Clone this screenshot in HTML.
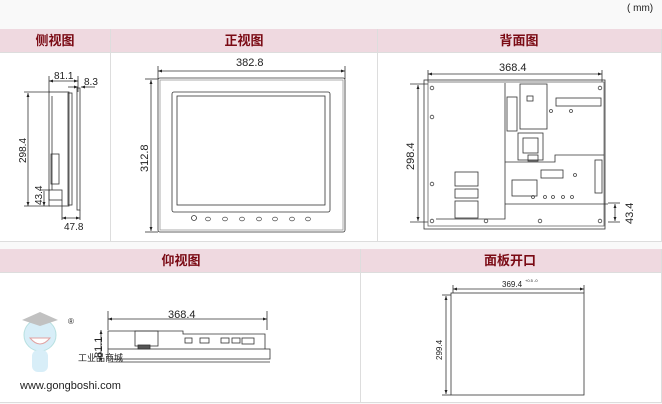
<!DOCTYPE html>
<html><head><meta charset="utf-8"><style>
html,body{margin:0;padding:0;background:#f9f9f9;}
svg{display:block;}
text{font-family:"Liberation Sans",sans-serif;fill:#222;}
.h{font-family:"Liberation Sans","Noto Sans CJK SC",sans-serif;font-weight:bold;fill:#7a0a14;font-size:13px;}
</style></head><body>
<svg width="662" height="404" viewBox="0 0 662 404" xmlns="http://www.w3.org/2000/svg">
<defs>
<marker id="a" viewBox="0 0 6 6" refX="6" refY="3" markerWidth="5" markerHeight="5" orient="auto-start-reverse"><path d="M0,0.8 L6,3 L0,5.2z" fill="#222"/></marker>
</defs>
<rect width="662" height="404" fill="#f9f9f9"/>
<text x="627" y="11" font-size="10" fill="#444">( mm)</text>
<!-- top table -->
<rect x="0" y="29" width="662" height="23" fill="#efd9e0"/>
<rect x="0" y="52" width="662" height="189" fill="#fff"/>
<g stroke="#ddd" stroke-width="1" fill="none">
<line x1="110.5" y1="29" x2="110.5" y2="241"/><line x1="377.5" y1="29" x2="377.5" y2="241"/>
<line x1="0" y1="52.5" x2="662" y2="52.5"/><line x1="0" y1="241.5" x2="662" y2="241.5"/>
<line x1="661.5" y1="29" x2="661.5" y2="241"/>
</g>
<text class="h" x="55" y="45" text-anchor="middle">侧视图</text>
<text class="h" x="244" y="45" text-anchor="middle">正视图</text>
<text class="h" x="519" y="45" text-anchor="middle">背面图</text>
<!-- side view -->
<g stroke="#333" stroke-width="0.8" fill="none">
<line x1="49" y1="76" x2="49" y2="92"/><line x1="78" y1="76" x2="78" y2="92"/>
<line x1="49" y1="81" x2="78" y2="81" marker-start="url(#a)" marker-end="url(#a)"/>
<line x1="68" y1="87" x2="78" y2="87" marker-end="url(#a)"/><line x1="95" y1="87" x2="81" y2="87" marker-end="url(#a)"/>
<line x1="24" y1="92" x2="50" y2="92"/><line x1="28" y1="93" x2="28" y2="206" marker-start="url(#a)" marker-end="url(#a)"/>
<line x1="24" y1="206" x2="50" y2="206"/>
<rect x="49" y="92" width="20" height="114"/>
<line x1="52" y1="96" x2="52" y2="190"/>
<rect x="68" y="93" width="4" height="112"/>
<rect x="77" y="88" width="3" height="122"/>
<rect x="51" y="154" width="8" height="30"/>
<rect x="49" y="190" width="13" height="10"/>
<line x1="62" y1="200" x2="62" y2="220"/><line x1="80" y1="210" x2="80" y2="220"/>
<line x1="62" y1="218" x2="80" y2="218" marker-start="url(#a)" marker-end="url(#a)"/>
<line x1="40" y1="190" x2="50" y2="190"/><line x1="44" y1="191" x2="44" y2="206" marker-end="url(#a)"/>
</g>
<text x="54" y="79" font-size="10">81.1</text>
<text x="84" y="85" font-size="10">8.3</text>
<text x="64" y="230" font-size="10">47.8</text>
<text font-size="10" transform="translate(26,163) rotate(-90)">298.4</text>
<text font-size="10" transform="translate(42,205) rotate(-90)">43.4</text>
<!-- front view -->
<g stroke="#333" stroke-width="0.8" fill="none">
<line x1="158" y1="66" x2="158" y2="79"/><line x1="345" y1="66" x2="345" y2="79"/>
<line x1="158" y1="71" x2="345" y2="71" marker-start="url(#a)" marker-end="url(#a)"/>
<line x1="145" y1="79" x2="158" y2="79"/><line x1="145" y1="232" x2="158" y2="232"/>
<line x1="151" y1="80" x2="151" y2="231" marker-start="url(#a)" marker-end="url(#a)"/>
<rect x="158" y="78" width="187" height="154" rx="2"/>
<rect x="160" y="80" width="183" height="150" stroke="#999"/>
<rect x="172" y="92" width="158" height="120" rx="2"/>
<rect x="177" y="96" width="148" height="109"/>
<circle cx="194" cy="218" r="2.5"/>
<g stroke="#666"><ellipse cx="208" cy="219" rx="2.5" ry="1.8"/><ellipse cx="225" cy="219" rx="2.5" ry="1.8"/><ellipse cx="242" cy="219" rx="2.5" ry="1.8"/><ellipse cx="259" cy="219" rx="2.5" ry="1.8"/><ellipse cx="275" cy="219" rx="2.5" ry="1.8"/><ellipse cx="292" cy="219" rx="2.5" ry="1.8"/><ellipse cx="308" cy="219" rx="2.5" ry="1.8"/></g>
</g>
<text x="236" y="66" font-size="11">382.8</text>
<text font-size="11" transform="translate(148,172) rotate(-90)">312.8</text>
<!-- back view -->
<g stroke="#333" stroke-width="0.8" fill="none">
<line x1="428" y1="70" x2="428" y2="82"/><line x1="602" y1="70" x2="602" y2="82"/>
<line x1="428" y1="74" x2="602" y2="74" marker-start="url(#a)" marker-end="url(#a)"/>
<line x1="410" y1="84" x2="428" y2="84"/><line x1="410" y1="222" x2="428" y2="222"/>
<line x1="418" y1="85" x2="418" y2="221" marker-start="url(#a)" marker-end="url(#a)"/>
<rect x="424" y="80" width="181" height="149"/>
<rect x="428" y="82" width="176" height="144" stroke="#666"/>
<polyline points="505,83 505,219 436,219"/>
<rect x="520" y="84" width="27" height="45"/><rect x="507" y="97" width="10" height="34"/>
<rect x="527" y="96" width="6" height="5"/>
<rect x="556" y="98" width="45" height="8"/>
<rect x="518" y="133" width="25" height="27"/><rect x="523" y="138" width="15" height="15"/><rect x="528" y="155" width="10" height="6"/>
<polyline points="505,162 555,162 555,155 604,155"/>
<rect x="595" y="160" width="7" height="33"/>
<rect x="541" y="170" width="22" height="8"/>
<rect x="512" y="180" width="25" height="16"/>
<line x1="505" y1="204" x2="608" y2="204"/>
<rect x="455" y="172" width="23" height="14"/><rect x="455" y="189" width="23" height="9"/><rect x="455" y="201" width="23" height="17"/>
<line x1="608" y1="203" x2="620" y2="203"/><line x1="608" y1="222" x2="620" y2="222"/>
<line x1="615" y1="204" x2="615" y2="221" marker-start="url(#a)" marker-end="url(#a)"/>
<g stroke="#444"><circle cx="432" cy="88" r="1.8"/><circle cx="600" cy="88" r="1.8"/><circle cx="432" cy="117" r="1.8"/><circle cx="432" cy="184" r="1.8"/><circle cx="432" cy="221" r="1.8"/><circle cx="486" cy="221" r="1.8"/><circle cx="540" cy="221" r="1.8"/><circle cx="600" cy="221" r="1.8"/>
<circle cx="533" cy="197" r="1.5"/><circle cx="545" cy="197" r="1.5"/><circle cx="553" cy="197" r="1.5"/><circle cx="563" cy="197" r="1.5"/><circle cx="572" cy="197" r="1.5"/><circle cx="575" cy="175" r="1.5"/><circle cx="551" cy="111" r="1.5"/><circle cx="571" cy="111" r="1.5"/></g>
</g>
<text x="499" y="71" font-size="11">368.4</text>
<text font-size="11" transform="translate(414,170) rotate(-90)">298.4</text>
<text font-size="11" transform="translate(633,224) rotate(-90)">43.4</text>
<!-- bottom table -->
<rect x="0" y="249" width="662" height="23" fill="#efd9e0"/>
<rect x="0" y="272" width="662" height="130" fill="#fff"/>
<g stroke="#ddd" fill="none">
<line x1="360.5" y1="249" x2="360.5" y2="402"/><line x1="0" y1="272.5" x2="662" y2="272.5"/>
<line x1="0" y1="402.5" x2="662" y2="402.5"/><line x1="661.5" y1="249" x2="661.5" y2="402"/>
</g>
<text class="h" x="181" y="265" text-anchor="middle">仰视图</text>
<text class="h" x="510" y="265" text-anchor="middle">面板开口</text>
<!-- bottom view -->
<g stroke="#333" stroke-width="0.8" fill="none">
<line x1="108" y1="311" x2="108" y2="330"/><line x1="267" y1="311" x2="267" y2="330"/>
<line x1="108" y1="319" x2="267" y2="319" marker-start="url(#a)" marker-end="url(#a)"/>
<line x1="101" y1="330" x2="101" y2="362" marker-start="url(#a)" marker-end="url(#a)"/>
<polyline points="108,349 108,331 183,331 183,334 265,334 265,349"/>
<rect x="135" y="331" width="23" height="15"/>
<rect x="108" y="349" width="162" height="10"/>
<line x1="108" y1="362" x2="270" y2="362"/>
<rect x="185" y="338" width="7" height="5"/><rect x="200" y="338" width="9" height="5"/><rect x="221" y="338" width="8" height="5"/><rect x="232" y="338" width="8" height="5"/><rect x="242" y="338" width="12" height="6"/>
<rect x="138" y="345" width="12" height="4" fill="#555"/>
</g>
<text x="168" y="318" font-size="11">368.4</text>
<text font-size="11" transform="translate(102,358) rotate(-90)">81.1</text>
<!-- watermark -->
<g opacity="0.6">
<circle cx="40" cy="335" r="16" fill="#bfe3f5" stroke="#8cc"/>
<path d="M30,338 Q40,350 50,338z" fill="#fff" stroke="#c66"/>
<rect x="32" y="350" width="16" height="22" rx="6" fill="#bfe3f5"/>
<path d="M22,320 L40,312 L58,320 L40,326z" fill="#999"/>
</g>
<text x="20" y="389" font-size="11" fill="#aaa">www.gongboshi.com</text>
<text x="78" y="361" font-size="9" fill="#aaa" style="font-family:'Liberation Sans','Noto Sans CJK SC',sans-serif">工业品商城</text>
<text x="68" y="324" font-size="8" fill="#aaa">®</text>
<!-- cutout -->
<g stroke="#333" stroke-width="0.8" fill="none">
<rect x="451" y="293" width="133" height="102"/>
<line x1="453" y1="285" x2="453" y2="293"/><line x1="584" y1="285" x2="584" y2="293"/>
<line x1="453" y1="289" x2="584" y2="289" marker-start="url(#a)" marker-end="url(#a)"/>
<line x1="442" y1="295" x2="451" y2="295"/><line x1="442" y1="395" x2="451" y2="395"/>
<line x1="446" y1="296" x2="446" y2="394" marker-start="url(#a)" marker-end="url(#a)"/>
</g>
<text x="502" y="287" font-size="8">369.4</text><text x="525" y="282" font-size="4">+0.5 -0</text>
<text font-size="8" transform="translate(442,360) rotate(-90)">299.4</text>
</svg>
</body></html>
